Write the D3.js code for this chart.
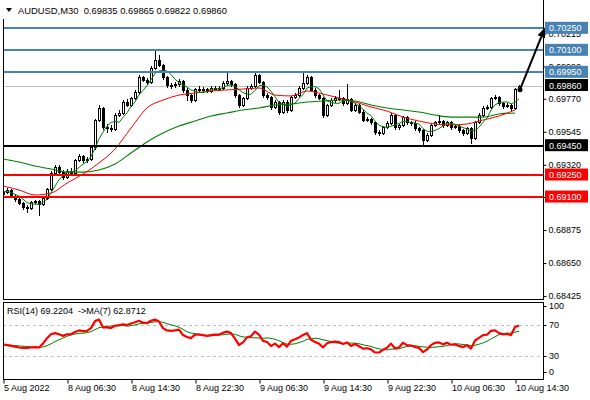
<!DOCTYPE html>
<html>
<head>
<meta charset="utf-8">
<script src="https://cdnjs.cloudflare.com/ajax/libs/d3/7.8.5/d3.min.js"></script>
<style>
  body { margin: 0; background: #fff; }
  svg { display: block; }
  text { font-family: "Liberation Sans", Arial, sans-serif; font-size: 9px; fill: #000; }
</style>
</head>
<body>
<svg width="590" height="400"></svg>
<script>
// AUDUSD M30 candles (open = previous close)
const firstOpen = 0.69120;
const closes = [
  0.69134, 0.69148, 0.69107, 0.69086, 0.69059, 0.69032, 0.69025, 0.69066, 0.69073, 0.69052,
  0.69093, 0.69155, 0.69264, 0.69305, 0.69270, 0.69236, 0.69277, 0.69264, 0.69352, 0.69380,
  0.69352, 0.69359, 0.69441, 0.69625, 0.69707, 0.69577, 0.69570, 0.69564, 0.69659, 0.69673,
  0.69748, 0.69727, 0.69775, 0.69816, 0.69918, 0.69898, 0.69884, 0.69980, 0.70034, 0.70000,
  0.69918, 0.69864, 0.69862, 0.69870, 0.69891, 0.69830, 0.69795, 0.69761, 0.69836, 0.69838,
  0.69834, 0.69823, 0.69843, 0.69845, 0.69841, 0.69877, 0.69891, 0.69870, 0.69795, 0.69727,
  0.69775, 0.69843, 0.69857, 0.69932, 0.69884, 0.69795, 0.69782, 0.69714, 0.69748, 0.69680,
  0.69748, 0.69693, 0.69782, 0.69795, 0.69843, 0.69877, 0.69918, 0.69830, 0.69795, 0.69775,
  0.69659, 0.69727, 0.69761, 0.69775, 0.69772, 0.69741, 0.69768, 0.69693, 0.69727, 0.69680,
  0.69625, 0.69632, 0.69611, 0.69543, 0.69536, 0.69577, 0.69605, 0.69659, 0.69577, 0.69591,
  0.69645, 0.69611, 0.69605, 0.69570, 0.69557, 0.69489, 0.69523, 0.69591, 0.69611, 0.69618,
  0.69591, 0.69611, 0.69577, 0.69584, 0.69557, 0.69536, 0.69570, 0.69502, 0.69611, 0.69659,
  0.69707, 0.69714, 0.69775, 0.69782, 0.69741, 0.69720, 0.69727, 0.69707, 0.69835, 0.69860
];
const highs = [
  0.69145, 0.69160, 0.69155, 0.69114, 0.69093, 0.69066, 0.69045, 0.69075, 0.69082, 0.69080,
  0.69100, 0.69162, 0.69275, 0.69318, 0.69320, 0.69285, 0.69290, 0.69300, 0.69360, 0.69395,
  0.69388, 0.69370, 0.69450, 0.69635, 0.69725, 0.69715, 0.69600, 0.69590, 0.69670, 0.69690,
  0.69760, 0.69765, 0.69785, 0.69830, 0.69930, 0.69925, 0.69910, 0.69995, 0.70102, 0.70068,
  0.70010, 0.69925, 0.69880, 0.69885, 0.69905, 0.69900, 0.69840, 0.69805, 0.69845, 0.69860,
  0.69850, 0.69845, 0.69855, 0.69860, 0.69855, 0.69890, 0.69945, 0.69900, 0.69880, 0.69805,
  0.69785, 0.69855, 0.69870, 0.69945, 0.69940, 0.69890, 0.69810, 0.69790, 0.69760, 0.69755,
  0.69760, 0.69760, 0.69790, 0.69810, 0.69855, 0.69952, 0.69930, 0.69925, 0.69840, 0.69805,
  0.69785, 0.69735, 0.69775, 0.69790, 0.69830, 0.69780, 0.69870, 0.69775, 0.69740, 0.69735,
  0.69690, 0.69645, 0.69640, 0.69620, 0.69555, 0.69585, 0.69615, 0.69670, 0.69665, 0.69600,
  0.69655, 0.69650, 0.69620, 0.69615, 0.69580, 0.69565, 0.69535, 0.69600, 0.69620, 0.69659,
  0.69625, 0.69620, 0.69620, 0.69595, 0.69595, 0.69565, 0.69580, 0.69580, 0.69620, 0.69670,
  0.69720, 0.69730, 0.69785, 0.69795, 0.69790, 0.69750, 0.69740, 0.69735, 0.69845, 0.69865
];
const lows = [
  0.69112, 0.69128, 0.69100, 0.69075, 0.69050, 0.69020, 0.68998, 0.69018, 0.69058, 0.68977,
  0.69045, 0.69086, 0.69148, 0.69255, 0.69262, 0.69222, 0.69230, 0.69255, 0.69256, 0.69345,
  0.69340, 0.69340, 0.69350, 0.69430, 0.69615, 0.69565, 0.69545, 0.69550, 0.69555, 0.69650,
  0.69665, 0.69720, 0.69720, 0.69765, 0.69805, 0.69890, 0.69870, 0.69875, 0.69970, 0.69990,
  0.69905, 0.69850, 0.69845, 0.69850, 0.69860, 0.69815, 0.69761, 0.69745, 0.69755, 0.69825,
  0.69825, 0.69815, 0.69815, 0.69835, 0.69830, 0.69835, 0.69870, 0.69860, 0.69785, 0.69715,
  0.69720, 0.69765, 0.69835, 0.69850, 0.69875, 0.69785, 0.69770, 0.69700, 0.69705, 0.69665,
  0.69670, 0.69680, 0.69685, 0.69775, 0.69790, 0.69835, 0.69870, 0.69820, 0.69785, 0.69765,
  0.69645, 0.69650, 0.69720, 0.69750, 0.69760, 0.69730, 0.69735, 0.69685, 0.69685, 0.69670,
  0.69615, 0.69615, 0.69600, 0.69530, 0.69525, 0.69530, 0.69570, 0.69600, 0.69565, 0.69565,
  0.69585, 0.69600, 0.69590, 0.69560, 0.69545, 0.69455, 0.69480, 0.69515, 0.69585, 0.69605,
  0.69580, 0.69585, 0.69565, 0.69570, 0.69545, 0.69525, 0.69530, 0.69468, 0.69495, 0.69605,
  0.69650, 0.69700, 0.69705, 0.69770, 0.69730, 0.69710, 0.69712, 0.69695, 0.69700, 0.69822
];

// moving averages read every 4 bars (bars 0, 4, ... 128)
const redMA = [
  0.69175, 0.69148, 0.69114, 0.69127, 0.69195, 0.69257, 0.69332, 0.69427, 0.69570, 0.69707,
  0.69761, 0.69795, 0.69809, 0.69823, 0.69830, 0.69836, 0.69843, 0.69795, 0.69789, 0.69823,
  0.69802, 0.69775, 0.69748, 0.69714, 0.69686, 0.69645, 0.69618, 0.69598, 0.69591, 0.69598,
  0.69625, 0.69652, 0.69693
];
const slowMA = [
  0.69359, 0.69339, 0.69311, 0.69291, 0.69270, 0.69270, 0.69284, 0.69325, 0.69400, 0.69475,
  0.69536, 0.69584, 0.69618, 0.69652, 0.69673, 0.69693, 0.69707, 0.69727, 0.69734, 0.69748,
  0.69755, 0.69761, 0.69755, 0.69727, 0.69707, 0.69693, 0.69680, 0.69659, 0.69645, 0.69645,
  0.69645, 0.69666, 0.69673
];

// RSI(14), one value per bar
const rsi = [
  45, 44, 43, 42, 41, 40.5, 40.5, 41, 41.5, 41,
  46, 53, 58, 59.5, 58, 56, 58, 58, 61, 63,
  62, 62.5, 66, 75, 77, 67, 67, 66, 69, 69.5,
  71, 70, 72, 73.5, 75.5, 73, 72.5, 75.5, 77, 74.5,
  66, 63, 62.5, 63, 64, 57, 54.5, 53, 57.5, 57.5,
  57, 56, 57, 57.5, 57.5, 60, 61.5, 59.5, 52.5, 44,
  47.5, 54, 55.5, 61.5, 57.5, 49.5, 48, 43, 46, 41.5,
  46.5, 42, 49.5, 51.5, 54, 57, 59.5, 51, 48, 46,
  41, 46.5, 48, 48.5, 48, 45.5, 47.5, 43, 45.5, 42.5,
  39.5, 40, 38.5, 34.5, 34.5, 38, 40.5, 46, 40, 41,
  47, 44, 43.5, 41.5, 40.5, 35, 38.5, 44, 47, 47.5,
  45, 47, 44.5, 45, 43, 41.5, 44, 39.5, 50, 53.5,
  57, 57.5, 62.5, 63, 59.5, 58, 58.5, 57, 67.5, 69.2
];

const priceTicks = [0.68425, 0.68650, 0.68875, 0.69100, 0.69320, 0.69545, 0.69770, 0.69990, 0.70215];
const levelPrices = [0.70250, 0.70100, 0.69950, 0.69450, 0.69250, 0.69100];
const levelColors = ["#4682b4", "#4682b4", "#4682b4", "#000000", "#ff0000", "#ff0000"];
const bidPrice = 0.69860;
const rsiLevels = [70, 30];
const rsiTicks = [100, 70, 30, 0];
const timeTickBars = [0, 16, 32, 48, 64, 80, 96, 112, 128];
const timeLabels = ["5 Aug 2022", "8 Aug 06:30", "8 Aug 14:30", "8 Aug 22:30", "9 Aug 06:30",
  "9 Aug 14:30", "9 Aug 22:30", "10 Aug 06:30", "10 Aug 14:30"];
// arrow annotation: [bar, price] from -> to
const arrowFrom = [129.25, 0.69832];
const arrowTo = [135.5, 0.70255];

const svg = d3.select("svg");

const x = d3.scaleLinear().domain([0, 135]).range([3, 543]);
const y = d3.scaleLinear().domain([0.68405, 0.70443]).range([299, 0]);
const yR = d3.scaleLinear().domain([0, 100]).range([379.25, 301.75]);

const opens = closes.map((c, i) => i === 0 ? firstOpen : closes[i - 1]);

function sma(values, period) {
  return values.map((v, i) => d3.mean(values.slice(Math.max(0, i - period + 1), i + 1)));
}
const fastMA = sma(closes, 5);
const rsiMA = sma(rsi, 7);

const defs = svg.append("defs");
defs.append("clipPath").attr("id", "clipMain")
  .append("rect").attr("x", 4).attr("y", 0).attr("width", 539.5).attr("height", 299);
defs.append("clipPath").attr("id", "clipRsi")
  .append("rect").attr("x", 4).attr("y", 302).attr("width", 539.5).attr("height", 77);

// ---- main panel
const mainG = svg.append("g").attr("clip-path", "url(#clipMain)");

mainG.append("line")
  .attr("x1", 3).attr("x2", 544)
  .attr("y1", Math.round(y(bidPrice)) + 0.5).attr("y2", Math.round(y(bidPrice)) + 0.5)
  .attr("stroke", "#c0c0c0").attr("stroke-width", 1);

const candleG = mainG.append("g").attr("shape-rendering", "crispEdges");
closes.forEach((c, i) => {
  const o = opens[i];
  const px = Math.round(x(i));
  candleG.append("line")
    .attr("x1", px + 0.5).attr("x2", px + 0.5)
    .attr("y1", Math.round(y(highs[i]))).attr("y2", Math.round(y(lows[i])) + 1)
    .attr("stroke", "#000");
  const top = Math.round(y(Math.max(o, c)));
  const bot = Math.round(y(Math.min(o, c)));
  if (c >= o) {
    candleG.append("rect")
      .attr("x", px - 0.5).attr("y", top + 0.5)
      .attr("width", 2).attr("height", Math.max(bot - top, 1))
      .attr("fill", "#fff").attr("stroke", "#000");
  } else {
    candleG.append("rect")
      .attr("x", px - 1).attr("y", top)
      .attr("width", 3).attr("height", Math.max(bot - top, 1) + 1)
      .attr("fill", "#000");
  }
});

const maIdx = d3.range(0, 129, 4);
const maLine = d3.line()
  .x(d => x(d[0])).y(d => y(d[1]))
  .curve(d3.curveMonotoneX);

mainG.append("path")
  .attr("d", maLine(maIdx.map((b, k) => [b, slowMA[k]])))
  .attr("fill", "none").attr("stroke", "#008000").attr("stroke-width", 1.1);
mainG.append("path")
  .attr("d", maLine(maIdx.map((b, k) => [b, redMA[k]])))
  .attr("fill", "none").attr("stroke", "#ff0000").attr("stroke-width", 1);
mainG.append("path")
  .attr("d", d3.line().x((d, i) => x(i)).y(d => y(d))(fastMA))
  .attr("fill", "none").attr("stroke", "#008000").attr("stroke-width", 1);

levelPrices.forEach((p, k) => {
  mainG.append("line")
    .attr("x1", 3).attr("x2", 544)
    .attr("y1", Math.round(y(p))).attr("y2", Math.round(y(p)))
    .attr("stroke", levelColors[k]).attr("stroke-width", 2);
});

// ---- price axis
const priceAxis = d3.axisRight(y)
  .tickValues(priceTicks)
  .tickFormat(d3.format(".5f"))
  .tickSize(3).tickPadding(2);
const pa = svg.append("g")
  .attr("transform", "translate(543.5,0)")
  .call(priceAxis);
pa.select(".domain").remove();
pa.selectAll("line").attr("stroke", "#000");
pa.selectAll("text").style("font-size", "9px").style("font-family", "Liberation Sans, Arial, sans-serif");

function priceBox(p, color) {
  const cy = y(p);
  svg.append("rect")
    .attr("x", 545).attr("y", cy - 6.5)
    .attr("width", 43).attr("height", 12)
    .attr("fill", color);
  svg.append("text")
    .attr("x", 549).attr("y", cy + 3)
    .style("fill", "#fff")
    .text(d3.format(".5f")(p));
}
levelPrices.forEach((p, k) => priceBox(p, levelColors[k]));
priceBox(bidPrice, "#000");

// frame
svg.append("line").attr("x1", 543.5).attr("x2", 543.5).attr("y1", 0).attr("y2", 299.5)
  .attr("stroke", "#000");
svg.append("line").attr("x1", 3.5).attr("x2", 3.5).attr("y1", 19).attr("y2", 299.5)
  .attr("stroke", "#000");
svg.append("line").attr("x1", 3).attr("x2", 544).attr("y1", 299.5).attr("y2", 299.5)
  .attr("stroke", "#000");

// title
svg.append("path").attr("d", "M6,8 L12,8 L9,12 Z").attr("fill", "#000");
svg.append("text")
  .attr("x", 18).attr("y", 14)
  .style("white-space", "pre").style("font-size", "9.4px")
  .text("AUDUSD,M30  0.69835 0.69865 0.69822 0.69860");

// arrow
const ax1 = x(arrowFrom[0]), ay1 = y(arrowFrom[1]);
const ax2 = x(arrowTo[0]), ay2 = y(arrowTo[1]);
const ang = Math.atan2(ay2 - ay1, ax2 - ax1);
const headLen = 10, headW = 4;
const bx = ax2 - headLen * Math.cos(ang), by = ay2 - headLen * Math.sin(ang);
svg.append("line")
  .attr("x1", ax1).attr("y1", ay1).attr("x2", bx).attr("y2", by)
  .attr("stroke", "#000").attr("stroke-width", 2);
svg.append("path")
  .attr("d", `M${ax2},${ay2} L${bx + headW * Math.sin(ang)},${by - headW * Math.cos(ang)} L${bx - headW * Math.sin(ang)},${by + headW * Math.cos(ang)} Z`)
  .attr("fill", "#000");
svg.append("circle").attr("cx", ax1).attr("cy", ay1).attr("r", 2.5).attr("fill", "#000");

// ---- RSI panel
const rsiG = svg.append("g").attr("clip-path", "url(#clipRsi)");
rsiLevels.forEach(v => {
  rsiG.append("line")
    .attr("x1", 3).attr("x2", 544)
    .attr("y1", Math.round(yR(v)) + 0.5).attr("y2", Math.round(yR(v)) + 0.5)
    .attr("stroke", "#c0c0c0").attr("stroke-dasharray", "3,3");
});
rsiG.append("path")
  .attr("d", d3.line().x((d, i) => x(i)).y(d => yR(d))(rsiMA))
  .attr("fill", "none").attr("stroke", "#008000").attr("stroke-width", 1);
rsiG.append("path")
  .attr("d", d3.line().x((d, i) => x(i)).y(d => yR(d))(rsi))
  .attr("fill", "none").attr("stroke", "#ff0000").attr("stroke-width", 2.2)
  .attr("stroke-linejoin", "round");

svg.append("rect")
  .attr("x", 3.5).attr("y", 302.5).attr("width", 540).attr("height", 77)
  .attr("fill", "none").attr("stroke", "#000");

svg.append("text").attr("x", 7).attr("y", 314)
  .style("white-space", "pre")
  .text("RSI(14) 69.2204  ->MA(7) 62.8712");

rsiTicks.forEach(v => {
  const ty = Math.max(306, Math.min(372, yR(v)));
  svg.append("line").attr("x1", 543.5).attr("x2", 546.5)
    .attr("y1", Math.round(ty) + 0.5).attr("y2", Math.round(ty) + 0.5).attr("stroke", "#000");
  svg.append("text").attr("x", 549).attr("y", ty + 3).text(v);
});

// ---- time axis
const timeAxis = d3.axisBottom(x)
  .tickValues(timeTickBars)
  .tickFormat((d, i) => timeLabels[i])
  .tickSize(4).tickPadding(1);
const ta = svg.append("g")
  .attr("transform", "translate(0.5,379.5)")
  .call(timeAxis);
ta.select(".domain").remove();
ta.selectAll("line").attr("stroke", "#000");
ta.selectAll("text")
  .attr("text-anchor", "start").attr("x", 0)
  .style("font-size", "9px").style("font-family", "Liberation Sans, Arial, sans-serif");
</script>
</body>
</html>
